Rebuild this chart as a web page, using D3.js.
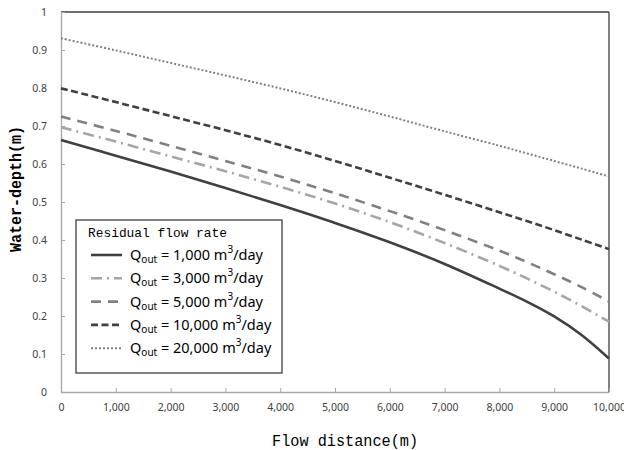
<!DOCTYPE html>
<html>
<head>
<meta charset="utf-8">
<script src="https://cdn.jsdelivr.net/npm/d3@7"></script>
<style>
  body { margin: 0; background: #fff; }
  .tick text { font-family: "Noto Sans", sans-serif; font-size: 10.5px; fill: #404040; }
  .mono { font-family: "Liberation Mono", monospace; fill: #000; }
  .leg { font-family: "Noto Sans", sans-serif; font-size: 14.5px; fill: #000; }
</style>
</head>
<body>
<svg id="chart" width="624" height="450"></svg>
<script>
// flow distance (m)
const distance = [0, 1000, 2000, 3000, 4000, 5000, 6000, 7000, 8000, 8500, 9000, 9500, 10000];

// water depth (m) per residual flow rate
const q1000  = [0.663, 0.622, 0.580, 0.537, 0.492, 0.445, 0.394, 0.337, 0.272, 0.238, 0.199, 0.150, 0.088];
const q3000  = [0.697, 0.659, 0.620, 0.581, 0.540, 0.496, 0.447, 0.392, 0.332, 0.299, 0.264, 0.226, 0.185];
const q5000  = [0.725, 0.687, 0.648, 0.608, 0.567, 0.523, 0.476, 0.426, 0.372, 0.342, 0.310, 0.276, 0.238];
const q10000 = [0.799, 0.763, 0.726, 0.689, 0.650, 0.608, 0.564, 0.519, 0.473, 0.450, 0.426, 0.401, 0.376];
const q20000 = [0.931, 0.899, 0.866, 0.833, 0.799, 0.763, 0.725, 0.686, 0.648, 0.628, 0.608, 0.588, 0.567];

const seriesNames = ["1,000", "3,000", "5,000", "10,000", "20,000"];
const xTicks = d3.range(0, 10001, 1000);
const yTicks = d3.range(0, 11).map(d => d / 10);

const series = [
  { name: seriesNames[0], values: q1000,  color: "#404040", width: 2.6, dash: null },
  { name: seriesNames[1], values: q3000,  color: "#a6a6a6", width: 2.6, dash: "11,5,2,5" },
  { name: seriesNames[2], values: q5000,  color: "#808080", width: 2.6, dash: "10,7" },
  { name: seriesNames[3], values: q10000, color: "#404040", width: 2.6, dash: "7,3.5" },
  { name: seriesNames[4], values: q20000, color: "#808080", width: 2,   dash: "2,2" }
];

const margin = { top: 12, right: 15, bottom: 58, left: 61 };
const svg = d3.select("#chart");
const width = 624 - margin.left - margin.right,
      height = 450 - margin.top - margin.bottom;

const g = svg.append("g").attr("transform", `translate(${margin.left},${margin.top})`);

const x = d3.scaleLinear().domain([0, 10000]).range([0, width]);
const y = d3.scaleLinear().domain([0, 1]).range([height, 0]);

// plot frame: dark top/right, grey axes
g.append("line").attr("x1", 0).attr("x2", width).attr("y1", 0).attr("y2", 0)
  .attr("stroke", "#404040").attr("stroke-width", 1.3);
g.append("line").attr("x1", width).attr("x2", width).attr("y1", 0).attr("y2", height)
  .attr("stroke", "#404040").attr("stroke-width", 1.3);

const xAxis = d3.axisBottom(x).tickValues(xTicks).tickSizeInner(-4).tickSizeOuter(0)
  .tickPadding(12).tickFormat(d3.format(","));
const yAxis = d3.axisLeft(y).tickValues(yTicks).tickSizeInner(-4).tickSizeOuter(0)
  .tickPadding(14).tickFormat(d => d === 0 ? "0" : d === 1 ? "1" : d3.format(".1f")(d));

const gx = g.append("g").attr("transform", `translate(0,${height})`).call(xAxis);
const gy = g.append("g").call(yAxis);
[gx, gy].forEach(a => {
  a.select(".domain").attr("stroke", "#a6a6a6").attr("stroke-width", 1.3);
  a.selectAll(".tick line").attr("stroke", "#a6a6a6");
});

// curves
const line = d3.line()
  .x((d, i) => x(distance[i]))
  .y(d => y(d))
  .curve(d3.curveCatmullRom);

g.selectAll(".series")
  .data(series)
  .enter().append("path")
    .attr("class", "series")
    .attr("d", d => line(d.values))
    .attr("fill", "none")
    .attr("stroke", d => d.color)
    .attr("stroke-width", d => d.width)
    .attr("stroke-dasharray", d => d.dash);

// legend
const legend = svg.append("g").attr("transform", "translate(76,220)");
legend.append("rect")
  .attr("width", 206).attr("height", 153)
  .attr("fill", "#fff").attr("stroke", "#404040").attr("stroke-width", 1.3);
legend.append("text").attr("class", "mono")
  .attr("x", 12).attr("y", 17).attr("font-size", 13)
  .attr("textLength", 139).attr("lengthAdjust", "spacingAndGlyphs")
  .text("Residual flow rate");

const rows = legend.selectAll(".row")
  .data(series)
  .enter().append("g")
    .attr("class", "row")
    .attr("transform", (d, i) => `translate(0,${35 + i * 23.3})`);
rows.append("line")
  .attr("x1", 15).attr("x2", 46).attr("y1", 0).attr("y2", 0)
  .attr("stroke", d => d.color)
  .attr("stroke-width", d => d.width)
  .attr("stroke-dasharray", d => d.dash);
const lt = rows.append("text").attr("class", "leg").attr("x", 54).attr("y", 5);
lt.append("tspan").text("Q");
lt.append("tspan").attr("font-size", 10).attr("dy", 3).text("out");
lt.append("tspan").attr("dy", -3).text(d => ` = ${d.name} m`);
lt.append("tspan").attr("font-size", 10).attr("dy", -7).text("3");
lt.append("tspan").attr("dy", 7).text("/day");

// axis titles
svg.append("text").attr("class", "mono")
  .attr("x", 272).attr("y", 446).attr("font-size", 16)
  .attr("textLength", 146).attr("lengthAdjust", "spacingAndGlyphs")
  .text("Flow distance(m)");

svg.append("text").attr("class", "mono")
  .attr("transform", "translate(21,252) rotate(-90)")
  .attr("font-size", 16).attr("font-weight", "bold")
  .attr("textLength", 126).attr("lengthAdjust", "spacingAndGlyphs")
  .text("Water-depth(m)");
</script>
</body>
</html>
